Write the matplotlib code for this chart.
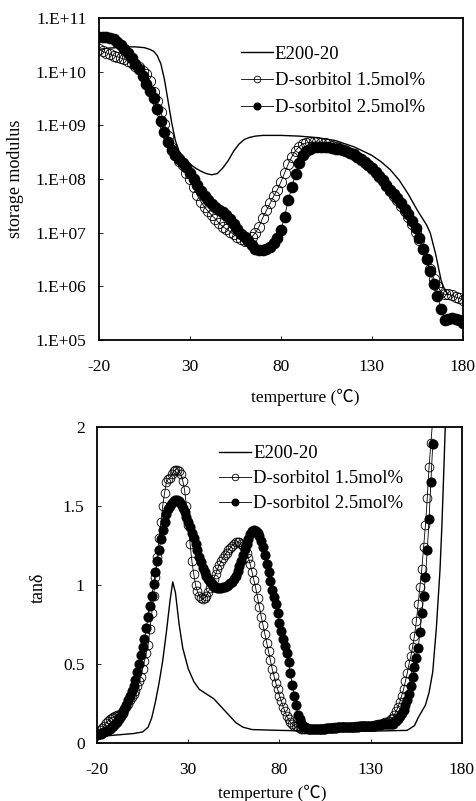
import numpy as np
import matplotlib
matplotlib.use("Agg")
import matplotlib.pyplot as plt
from matplotlib.ticker import FixedLocator, FixedFormatter

plt.rcParams['font.family'] = ['Liberation Serif', 'Noto Sans CJK JP', 'DejaVu Sans']
plt.rcParams['font.size'] = 12.5
plt.rcParams['axes.unicode_minus'] = False

# ---- storage modulus (Pa), marker series every 2 °C ----
temp = np.arange(-20, 181, 2)

e200_t = [-20, -15, -10, -5, 0, 5, 8, 10, 12, 14, 16, 18, 20, 22, 24, 27, 30, 33, 36, 39,
          42, 45, 48, 51, 54, 57, 60, 63, 66, 70, 80, 90, 100, 110, 120, 126, 130, 135,
          140, 145, 150, 155, 160, 162, 165, 168, 170, 172]
e200_mod = [2.6e10, 2.75e10, 2.8e10, 2.9e10, 2.9e10, 2.8e10, 2.6e10, 2.4e10, 2.0e10, 1.4e10,
            7.1e9, 2.8e9, 1.1e9, 5.2e8, 3.3e8, 2.4e8, 1.9e8, 1.6e8, 1.4e8, 1.26e8,
            1.2e8, 1.26e8, 1.6e8, 2.2e8, 3.3e8, 4.5e8, 5.5e8, 6.0e8, 6.3e8, 6.5e8, 6.5e8,
            6.3e8, 5.9e8, 5.2e8, 4.0e8, 3.2e8, 2.75e8, 2.1e8, 1.5e8, 9.5e7, 5.2e7, 2.6e7,
            1.4e7, 1.0e7, 4.0e6, 1.3e6, 8.5e5, 7.0e5]

sorb15_mod = [2.6e10, 2.4e10, 2.25e10, 2.1e10, 2.0e10, 1.9e10, 1.8e10, 1.7e10, 1.6e10, 1.45e10,
              1.3e10, 1.2e10, 1.05e10, 8.9e9, 6.6e9, 4.2e9, 2.8e9, 1.8e9, 1.05e9, 6.3e8,
              3.8e8, 2.8e8, 2.2e8, 1.8e8, 1.3e8, 1.0e8, 7.1e7, 5.0e7, 3.8e7, 3.0e7,
              2.5e7, 2.1e7, 1.8e7, 1.5e7, 1.3e7, 1.17e7, 1.05e7, 9.3e6, 8.3e6, 7.6e6,
              7.1e6, 7.2e6, 8.3e6, 1.0e7, 1.3e7, 1.9e7, 2.6e7, 3.5e7, 4.8e7, 6.3e7,
              8.9e7, 1.3e8, 1.9e8, 2.6e8, 3.4e8, 4.0e8, 4.5e8, 4.7e8, 4.8e8, 4.8e8,
              4.8e8, 4.7e8, 4.6e8, 4.4e8, 4.2e8, 4.0e8, 3.8e8, 3.5e8, 3.3e8, 3.1e8,
              2.8e8, 2.6e8, 2.3e8, 2.0e8, 1.8e8, 1.55e8, 1.3e8, 1.1e8, 9.1e7, 7.4e7,
              6.0e7, 4.9e7, 4.0e7, 3.2e7, 2.5e7, 1.95e7, 1.45e7, 1.05e7, 7.4e6, 5.0e6,
              3.3e6, 2.1e6, 1.4e6, 1.0e6, 7.9e5, 7.1e5, 7.1e5, 6.8e5, 6.3e5, 6.0e5, 5.6e5]

sorb25_mod = [4.5e10, 4.5e10, 4.4e10, 4.3e10, 4.0e10, 3.6e10, 3.2e10, 2.7e10, 2.2e10, 1.8e10,
              1.4e10, 1.1e10, 8.3e9, 6.0e9, 4.3e9, 3.2e9, 2.0e9, 1.2e9, 7.6e8, 5.0e8,
              3.5e8, 2.8e8, 2.4e8, 2.0e8, 1.66e8, 1.3e8, 1.0e8, 7.6e7, 5.9e7, 4.8e7,
              4.0e7, 3.4e7, 2.95e7, 2.6e7, 2.4e7, 2.1e7, 1.8e7, 1.45e7, 1.17e7, 9.5e6,
              8.3e6, 7.1e6, 5.8e6, 5.0e6, 4.7e6, 4.7e6, 5.0e6, 5.5e6, 6.3e6, 7.9e6,
              1.1e7, 2.0e7, 4.0e7, 7.1e7, 1.26e8, 2.0e8, 2.8e8, 3.4e8, 3.7e8, 3.9e8,
              4.0e8, 4.0e8, 4.0e8, 3.9e8, 3.8e8, 3.7e8, 3.6e8, 3.5e8, 3.3e8, 3.1e8,
              2.9e8, 2.6e8, 2.4e8, 2.1e8, 1.86e8, 1.6e8, 1.35e8, 1.15e8, 9.5e7, 7.8e7,
              6.3e7, 5.2e7, 4.4e7, 3.5e7, 2.8e7, 2.2e7, 1.66e7, 1.2e7, 7.9e6, 5.0e6,
              3.2e6, 1.9e6, 1.1e6, 6.6e5, 3.8e5, 2.4e5, 2.5e5, 2.6e5, 2.5e5, 2.4e5, 2.1e5]

# ---- tan delta, marker series every 1 °C ----
e200_tt = [-20, -10, 0, 5, 8, 10, 12, 14, 16, 18, 20, 21.5, 23, 25, 27, 30, 33, 36, 40, 44,
           48, 52, 56, 60, 65, 80, 100, 130, 150, 154, 156, 158, 160, 162, 164, 166, 168,
           169, 170, 171]
e200_tan = [0.04, 0.05, 0.06, 0.07, 0.10, 0.16, 0.26, 0.38, 0.52, 0.70, 0.90, 1.02, 0.95,
            0.75, 0.60, 0.47, 0.39, 0.34, 0.31, 0.28, 0.23, 0.18, 0.13, 0.10, 0.085, 0.08,
            0.075, 0.075, 0.08, 0.11, 0.16, 0.20, 0.24, 0.32, 0.45, 0.73, 1.10, 1.37, 1.70,
            2.05]

tan_temp = np.arange(-20, 165, 1)
sorb15_tan = [0.05, 0.065, 0.08, 0.095, 0.11, 0.125, 0.14, 0.15, 0.16, 0.165,
              0.17, 0.175, 0.18, 0.19, 0.20, 0.215, 0.23, 0.25, 0.27, 0.29,
              0.31, 0.33, 0.36, 0.39, 0.42, 0.47, 0.52, 0.57, 0.62, 0.72,
              0.82, 0.93, 1.05, 1.18, 1.30, 1.40, 1.50, 1.58, 1.65, 1.67,
              1.68, 1.70, 1.72, 1.73, 1.73, 1.72, 1.70, 1.66, 1.60, 1.50,
              1.38, 1.26, 1.15, 1.07, 1.00, 0.96, 0.93, 0.92, 0.91, 0.92,
              0.93, 0.955, 0.98, 1.01, 1.04, 1.07, 1.10, 1.125, 1.15, 1.17,
              1.19, 1.205, 1.22, 1.235, 1.25, 1.26, 1.27, 1.275, 1.27, 1.26,
              1.25, 1.23, 1.20, 1.17, 1.13, 1.08, 1.03, 0.98, 0.92, 0.86,
              0.80, 0.745, 0.69, 0.635, 0.58, 0.525, 0.47, 0.425, 0.38, 0.34,
              0.30, 0.265, 0.23, 0.20, 0.17, 0.15, 0.13, 0.12, 0.11, 0.105,
              0.10, 0.095, 0.09, 0.09, 0.09, 0.09, 0.09, 0.09, 0.09, 0.09,
              0.09, 0.09, 0.09, 0.09, 0.09, 0.095, 0.095, 0.095, 0.095, 0.095,
              0.10, 0.10, 0.10, 0.10, 0.10, 0.10, 0.10, 0.10, 0.10, 0.10,
              0.10, 0.10, 0.105, 0.105, 0.105, 0.105, 0.11, 0.11, 0.11, 0.11,
              0.11, 0.11, 0.115, 0.115, 0.12, 0.12, 0.12, 0.125, 0.13, 0.135,
              0.14, 0.15, 0.16, 0.18, 0.20, 0.23, 0.26, 0.30, 0.34, 0.39,
              0.44, 0.50, 0.55, 0.61, 0.68, 0.77, 0.88, 0.99, 1.10, 1.24,
              1.38, 1.55, 1.75, 1.90, 2.05]
sorb25_tan = [0.05, 0.055, 0.06, 0.065, 0.07, 0.075, 0.08, 0.09, 0.10, 0.11,
              0.12, 0.135, 0.15, 0.17, 0.19, 0.215, 0.24, 0.27, 0.30, 0.33,
              0.36, 0.40, 0.45, 0.50, 0.56, 0.61, 0.66, 0.73, 0.80, 0.865,
              0.93, 1.005, 1.08, 1.15, 1.22, 1.29, 1.35, 1.40, 1.45, 1.48,
              1.50, 1.52, 1.53, 1.54, 1.54, 1.53, 1.51, 1.49, 1.46, 1.43,
              1.40, 1.365, 1.33, 1.295, 1.26, 1.22, 1.18, 1.145, 1.11, 1.085,
              1.06, 1.04, 1.02, 1.005, 0.99, 0.985, 0.98, 0.98, 0.98, 0.985,
              0.99, 0.995, 1.00, 1.01, 1.02, 1.04, 1.06, 1.09, 1.12, 1.155,
              1.19, 1.225, 1.26, 1.29, 1.32, 1.34, 1.35, 1.345, 1.33, 1.31,
              1.28, 1.24, 1.19, 1.135, 1.08, 1.025, 0.97, 0.925, 0.88, 0.82,
              0.76, 0.71, 0.66, 0.615, 0.57, 0.51, 0.44, 0.37, 0.30, 0.24,
              0.18, 0.15, 0.125, 0.11, 0.10, 0.095, 0.09, 0.09, 0.09, 0.09,
              0.09, 0.09, 0.09, 0.09, 0.09, 0.09, 0.095, 0.095, 0.095, 0.095,
              0.095, 0.095, 0.10, 0.10, 0.10, 0.10, 0.10, 0.10, 0.10, 0.10,
              0.10, 0.10, 0.10, 0.10, 0.105, 0.105, 0.105, 0.11, 0.11, 0.11,
              0.11, 0.11, 0.11, 0.115, 0.115, 0.115, 0.12, 0.12, 0.12, 0.12,
              0.12, 0.12, 0.12, 0.13, 0.14, 0.155, 0.17, 0.19, 0.21, 0.24,
              0.27, 0.31, 0.36, 0.42, 0.48, 0.54, 0.60, 0.70, 0.82, 0.93,
              1.05, 1.22, 1.42, 1.65, 1.89]

xticks = [-20, 30, 80, 130, 180]
mod_ticks = [1e5, 1e6, 1e7, 1e8, 1e9, 1e10, 1e11]
mod_labels = ['1.E+05', '1.E+06', '1.E+07', '1.E+08', '1.E+09', '1.E+10', '1.E+11']
tan_ticks = [0, 0.5, 1, 1.5, 2]
tan_labels = ['0', '0.5', '1', '1.5', '2']
names = ['E200-20', 'D-sorbitol 1.5mol%', 'D-sorbitol 2.5mol%']

fig = plt.figure(figsize=(4.77, 8.01), dpi=100)
ax1 = fig.add_axes([0.2075, 0.5755, 0.763, 0.402])
ax2 = fig.add_axes([0.2034, 0.0724, 0.765, 0.3945])

ax1.plot(temp, sorb15_mod, '-o', color='black', lw=0.6, ms=7.4, mfc='none',
         mec='black', mew=0.6, label=names[1])
ax1.plot(temp, sorb25_mod, '-o', color='black', lw=0.6, ms=7.4, mfc='black',
         mec='black', label=names[2])
ax1.plot(e200_t, e200_mod, '-', color='black', lw=1.0, label=names[0])
ax1.set_yscale('log')
ax1.set_ylim(1e5, 1e11)
ax1.set_xlim(-20, 180)
ax1.yaxis.set_major_locator(FixedLocator(mod_ticks))
ax1.yaxis.set_major_formatter(FixedFormatter(mod_labels))
ax1.yaxis.set_minor_locator(FixedLocator([]))
ax1.set_ylabel('storage modulus', fontsize=13)
ax1.yaxis.set_label_coords(-0.205, 0.5)
ax1.set_xlabel('temperture (℃)')
ax1.xaxis.set_label_coords(0.566, -0.152)

ax2.plot(tan_temp, sorb15_tan, '-o', color='black', lw=0.6, ms=6.3, mfc='none',
         mec='black', mew=0.6, label=names[1])
ax2.plot(tan_temp, sorb25_tan, '-o', color='black', lw=0.6, ms=6.3, mfc='black',
         mec='black', label=names[2])
ax2.plot(e200_tt, e200_tan, '-', color='black', lw=1.0, label=names[0])
ax2.set_ylim(0, 2)
ax2.set_xlim(-20, 180)
ax2.set_yticks(tan_ticks)
ax2.set_yticklabels(tan_labels)
ax2.set_ylabel('tanδ', fontsize=13)
ax2.yaxis.set_label_coords(-0.137, 0.49)
ax2.set_xlabel('temperture (℃)')
ax2.xaxis.set_label_coords(0.48, -0.133)

for ax in (ax1, ax2):
    ax.set_xticks(xticks)
    ax.tick_params(direction='in', length=3, width=0.6, labelsize=12.5)
    ax.tick_params(axis='x', pad=14)
    ax.tick_params(axis='y', pad=9)
    for s in ax.spines.values():
        s.set_linewidth(1.3)

order = [2, 0, 1]
h1, l1 = ax1.get_legend_handles_labels()
ax1.legend([h1[i] for i in order], [l1[i] for i in order], loc='upper left',
           bbox_to_anchor=(0.39, 0.915), frameon=False, fontsize=13.5, borderpad=0,
           handlelength=1.7, handletextpad=0.1, labelspacing=0.52, markerscale=0.65,
           numpoints=1, borderaxespad=0)
h2, l2 = ax2.get_legend_handles_labels()
ax2.legend([h2[i] for i in order], [l2[i] for i in order], loc='upper left',
           bbox_to_anchor=(0.335, 0.942), frameon=False, fontsize=13.5, borderpad=0,
           handlelength=1.7, handletextpad=0.1, labelspacing=0.42, markerscale=0.75,
           numpoints=1, borderaxespad=0)

fig.savefig('out.png', dpi=100)
